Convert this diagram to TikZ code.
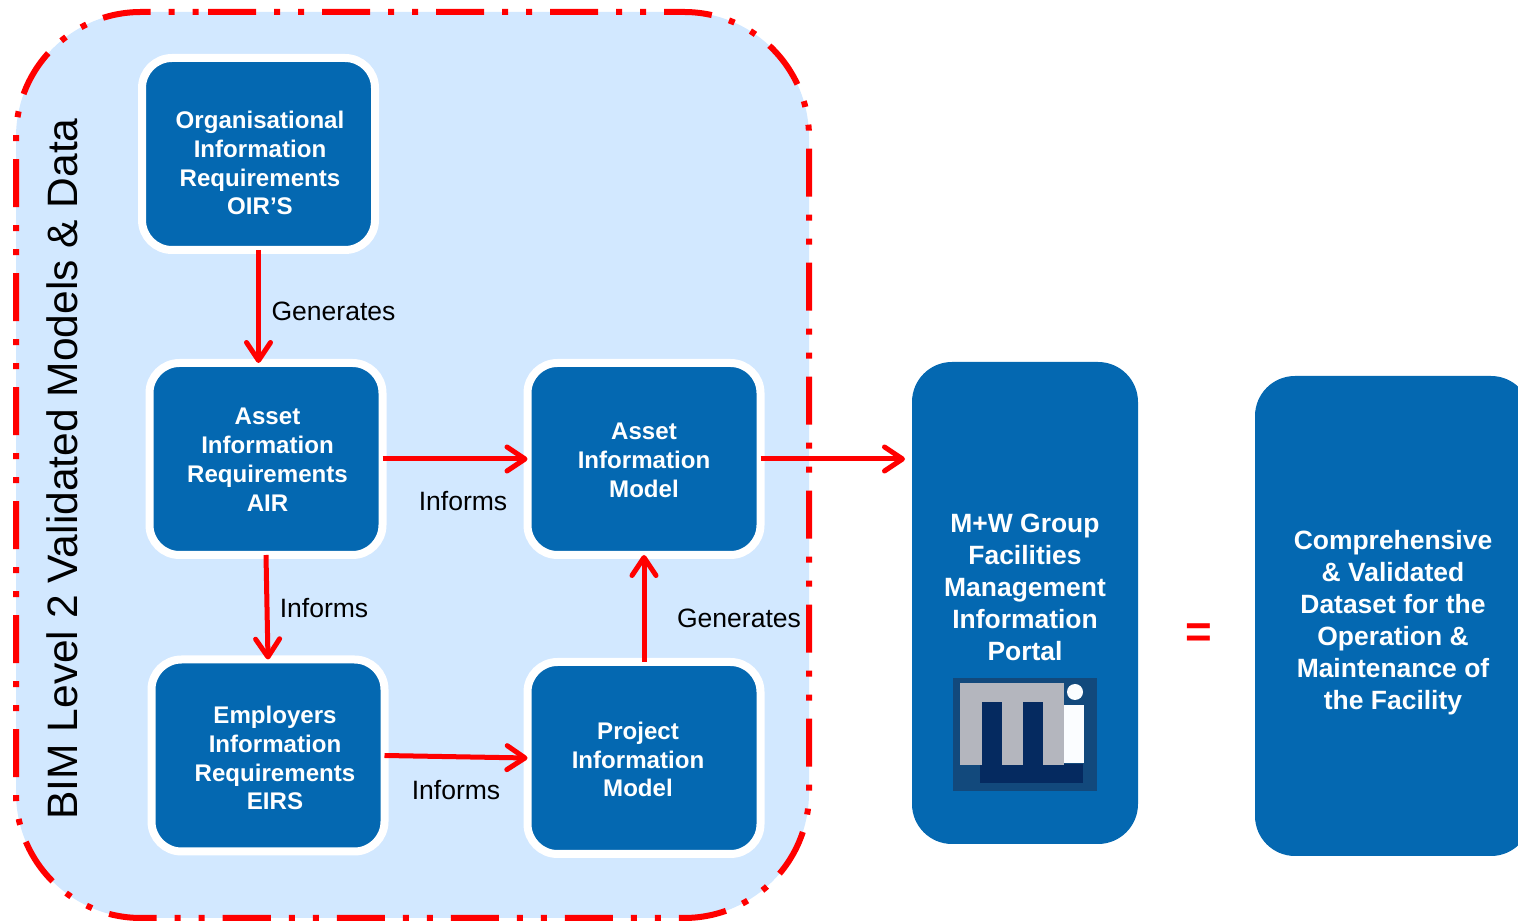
\documentclass[tikz,border=0pt]{standalone}
\usepackage{fontspec}
\setmainfont{Liberation Sans}
\usetikzlibrary{arrows.meta}
\definecolor{boxblue}{HTML}{0468B1}
\definecolor{paleblue}{HTML}{D2E8FF}
\definecolor{logobg}{HTML}{12497C}
\definecolor{logonavy}{HTML}{052A60}
\definecolor{logogrey}{HTML}{B4B6BE}
\tikzset{
    infobox/.style={rectangle, draw=white, line width=0.16cm, fill=boxblue, rounded corners=0.6cm,
        minimum width=4.66cm, minimum height=3.84cm, outer sep=0pt},
    bigbox/.style={rectangle, fill=boxblue, rounded corners=0.8cm, outer sep=0pt},
    boxtext/.style={text=white, align=center, inner sep=0pt, font=\fontsize{13.7}{16.4}\selectfont\bfseries},
    bigtext/.style={text=white, align=center, inner sep=0pt, font=\fontsize{15.05}{18.15}\selectfont\bfseries},
    linktext/.style={inner sep=0pt, font=\fontsize{15.1}{17}\selectfont},
    link/.style={draw=red, line width=0.1cm, -{Straight Barb[length=0.36cm, width=0.48cm, round]}}
}
\begin{document}
\begin{tikzpicture}
    \clip (0,0) rectangle (30.36,18.44);

    % dashed frame
    \draw[draw=red, fill=paleblue, line width=0.12cm, rounded corners=2.5cm,
          dash pattern=on 0.96cm off 0.36cm on 0.12cm off 0.36cm on 0.12cm off 0.36cm]
        (4.16,18.2) -- (16.18,18.2) -- (16.18,0.08) -- (0.32,0.08) -- (0.32,18.2) -- (4.16,18.2);

    \node[rotate=90, inner sep=0pt, font=\fontsize{24.2}{28}\selectfont] (frametext) at (1.24,9.06)
        {BIM Level 2 Validated Models \& Data};

    \node[infobox] (oir) at (5.17,15.36) {};
    \node[infobox] (air) at (5.32,9.26) {};
    \node[infobox] (aim) at (12.88,9.26) {};
    \node[infobox] (eir) at (5.36,3.33) {};
    \node[infobox] (pim) at (12.88,3.28) {};

    \node[boxtext] (oirtext) at (5.2,15.18) {Organisational\\Information\\Requirements\\OIR’S};
    \node[boxtext] (airtext) at (5.35,9.25) {Asset\\Information\\Requirements\\AIR};
    \node[boxtext] (aimtext) at (12.88,9.23) {Asset\\Information\\Model};
    \node[boxtext] (eirtext) at (5.5,3.28) {Employers\\Information\\Requirements\\EIRS};
    \node[boxtext] (pimtext) at (12.76,3.25) {Project\\Information\\Model};

    \node[bigbox, minimum width=4.52cm, minimum height=9.64cm] (portal) at (20.5,6.38) {};
    \node[bigbox, minimum width=5.52cm, minimum height=9.6cm] (dataset) at (27.86,6.12) {};

    \node[bigtext] (portaltext) at (20.5,6.69) {M+W Group\\Facilities\\Management\\Information\\Portal};
    \node[bigtext] (datasettext) at (27.86,5.99)
        {Comprehensive\\\& Validated\\Dataset for the\\Operation \&\\Maintenance of\\the Facility};

    \node[text=red, inner sep=0pt, font=\fontsize{26}{30}\selectfont\bfseries] (equals) at (23.98,5.72) {=};

    % logo
    \fill[logobg] (19.06,2.62) rectangle (21.94,4.88);
    \fill[logonavy] (19.6,2.78) rectangle (21.66,3.16);
    \fill[logogrey] (19.2,3.14) rectangle (21.28,4.78);
    \fill[logonavy] (19.64,3.0) rectangle (20.04,4.4);
    \fill[logonavy] (20.46,3.0) rectangle (20.86,4.4);
    \fill[white!92!paleblue] (21.28,3.18) rectangle (21.68,4.34);
    \fill[white!92!paleblue] (21.5,4.6) circle (0.16);

    \draw[link] (oir.south) -- (oir.south |- air.north);
    \draw[link] (air.east) -- (aim.west);
    \draw[link] (air.south) -- (eir.north);
    \draw[link] (eir.east) -- (pim.west);
    \draw[link] (pim.north) -- (aim.south);
    \draw[link, shorten >=0.14cm] (aim.east) -- (portal.west |- aim.east);

    \node[linktext] (generatesa) at (6.67,12.22) {Generates};
    \node[linktext] (informsa) at (9.26,8.42) {Informs};
    \node[linktext] (informsb) at (6.48,6.28) {Informs};
    \node[linktext] (informsc) at (9.12,2.64) {Informs};
    \node[linktext] (generatesb) at (14.78,6.08) {Generates};
\end{tikzpicture}
\end{document}
